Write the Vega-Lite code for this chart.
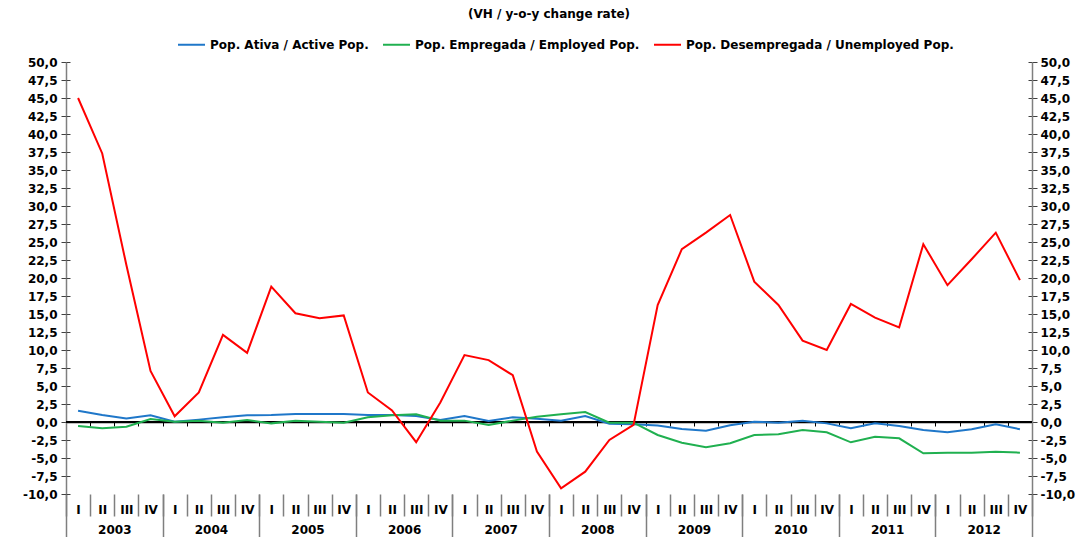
{
  "$schema": "https://vega.github.io/schema/vega-lite/v6.json",
  "width": 966,
  "height": 432,
  "autosize": {"type": "none"},
  "padding": {"left": 66, "top": 62, "right": 54, "bottom": 43},
  "background": "white",
  "config": {
    "locale": {"number": {"decimal": ",", "thousands": ".", "grouping": [3], "currency": ["", " €"], "minus": "-"}},
    "view": {"stroke": null},
    "font": "DejaVu Sans",
    "axis": {"labelFont": "DejaVu Sans", "labelFontWeight": "bold", "labelFontSize": 12, "labelColor": "#000000", "grid": false, "title": null}
  },
  "title": {"text": "(VH / y-o-y change rate)", "font": "DejaVu Sans", "fontSize": 12, "fontWeight": "bold", "color": "#000000", "anchor": "middle", "offset": 9},
  "data": {"values": [
    {"t": 0, "ativa": 1.57, "empregada": -0.56, "desempregada": 45.0},
    {"t": 1, "ativa": 0.97, "empregada": -0.88, "desempregada": 37.3},
    {"t": 2, "ativa": 0.5, "empregada": -0.65, "desempregada": 21.8},
    {"t": 3, "ativa": 0.93, "empregada": 0.42, "desempregada": 7.1},
    {"t": 4, "ativa": 0.05, "empregada": 0.05, "desempregada": 0.8},
    {"t": 5, "ativa": 0.33, "empregada": 0.19, "desempregada": 4.1},
    {"t": 6, "ativa": 0.65, "empregada": -0.1, "desempregada": 12.1},
    {"t": 7, "ativa": 0.93, "empregada": 0.28, "desempregada": 9.6},
    {"t": 8, "ativa": 0.97, "empregada": -0.19, "desempregada": 18.8},
    {"t": 9, "ativa": 1.1, "empregada": 0.19, "desempregada": 15.1},
    {"t": 10, "ativa": 1.1, "empregada": 0.05, "desempregada": 14.4},
    {"t": 11, "ativa": 1.1, "empregada": -0.1, "desempregada": 14.8},
    {"t": 12, "ativa": 0.97, "empregada": 0.65, "desempregada": 4.1},
    {"t": 13, "ativa": 0.97, "empregada": 0.95, "desempregada": 1.6},
    {"t": 14, "ativa": 0.83, "empregada": 1.06, "desempregada": -2.8},
    {"t": 15, "ativa": 0.28, "empregada": 0.19, "desempregada": 2.7},
    {"t": 16, "ativa": 0.83, "empregada": 0.19, "desempregada": 9.3},
    {"t": 17, "ativa": 0.14, "empregada": -0.42, "desempregada": 8.6},
    {"t": 18, "ativa": 0.65, "empregada": 0.19, "desempregada": 6.5},
    {"t": 19, "ativa": 0.46, "empregada": 0.74, "desempregada": -4.1},
    {"t": 20, "ativa": 0.19, "empregada": 1.06, "desempregada": -9.2},
    {"t": 21, "ativa": 0.83, "empregada": 1.39, "desempregada": -6.9},
    {"t": 22, "ativa": -0.23, "empregada": -0.1, "desempregada": -2.5},
    {"t": 23, "ativa": -0.32, "empregada": -0.1, "desempregada": -0.4},
    {"t": 24, "ativa": -0.5, "empregada": -1.8, "desempregada": 16.25},
    {"t": 25, "ativa": -0.97, "empregada": -2.87, "desempregada": 24.0},
    {"t": 26, "ativa": -1.2, "empregada": -3.5, "desempregada": 26.3},
    {"t": 27, "ativa": -0.46, "empregada": -2.96, "desempregada": 28.75},
    {"t": 28, "ativa": 0.05, "empregada": -1.8, "desempregada": 19.5},
    {"t": 29, "ativa": -0.09, "empregada": -1.71, "desempregada": 16.25},
    {"t": 30, "ativa": 0.19, "empregada": -1.1, "desempregada": 11.3},
    {"t": 31, "ativa": -0.19, "empregada": -1.43, "desempregada": 10.0},
    {"t": 32, "ativa": -0.88, "empregada": -2.82, "desempregada": 16.4},
    {"t": 33, "ativa": -0.19, "empregada": -2.04, "desempregada": 14.5},
    {"t": 34, "ativa": -0.56, "empregada": -2.27, "desempregada": 13.15},
    {"t": 35, "ativa": -1.1, "empregada": -4.35, "desempregada": 24.7},
    {"t": 36, "ativa": -1.43, "empregada": -4.26, "desempregada": 19.0},
    {"t": 37, "ativa": -1.0, "empregada": -4.26, "desempregada": 22.6},
    {"t": 38, "ativa": -0.32, "empregada": -4.12, "desempregada": 26.3},
    {"t": 39, "ativa": -1.0, "empregada": -4.26, "desempregada": 19.7}
  ]},
  "layer": [
    {
      "mark": {"type": "rule", "strokeWidth": 1.5, "color": "#000000"},
      "encoding": {
        "y": {"datum": 0, "type": "quantitative", "scale": {"domain": [-10, 50], "nice": false, "zero": false},
          "axis": {"orient": "right", "values": [-10,-7.5,-5,-2.5,0,2.5,5,7.5,10,12.5,15,17.5,20,22.5,25,27.5,30,32.5,35,37.5,40,42.5,45,47.5,50],
            "domain": false, "labels": false, "tickColor": "#404040", "tickSize": -4, "title": null}}
      }
    },
    {
      "mark": {"type": "line", "strokeWidth": 2},
      "encoding": {
        "x": {"field": "t", "type": "quantitative", "scale": {"domain": [-0.5, 39.5], "nice": false, "zero": false},
          "axis": {"orient": "bottom", "values": [-0.5,0.5,1.5,2.5,3.5,4.5,5.5,6.5,7.5,8.5,9.5,10.5,11.5,12.5,13.5,14.5,15.5,16.5,17.5,18.5,19.5,20.5,21.5,22.5,23.5,24.5,25.5,26.5,27.5,28.5,29.5,30.5,31.5,32.5,33.5,34.5,35.5,36.5,37.5,38.5,39.5],
            "domain": false, "ticks": true, "tickSize": 22, "tickColor": "#7f7f7f", "tickWidth": 1.5,
            "labelExpr": "datum.value > 39 ? '' : ((datum.value + 0.5) % 4 == 0 ? 'I' : ((datum.value + 0.5) % 4 == 1 ? 'II' : ((datum.value + 0.5) % 4 == 2 ? 'III' : 'IV')))",
            "labelOffset": 12.075, "labelPadding": -7, "labelBaseline": "middle", "labelAlign": "center", "labelFlush": false, "labelOverlap": false, "labelBound": false, "title": null}},
        "y": {"field": "ativa", "type": "quantitative", "scale": {"domain": [-10, 50], "nice": false, "zero": false},
          "axis": {"orient": "left", "values": [-10,-7.5,-5,-2.5,0,2.5,5,7.5,10,12.5,15,17.5,20,22.5,25,27.5,30,32.5,35,37.5,40,42.5,45,47.5,50], "format": ".1f",
            "domain": true, "domainColor": "#7f7f7f", "domainWidth": 1.5, "tickColor": "#404040", "tickSize": 5, "labelPadding": 4, "labelOverlap": false, "labelFlush": false, "title": null}},
        "color": {"datum": "Pop. Ativa / Active Pop.", "type": "nominal",
          "scale": {"domain": ["Pop. Ativa / Active Pop.", "Pop. Empregada / Employed Pop.", "Pop. Desempregada / Unemployed Pop."], "range": ["#1F77C9", "#20B050", "#FF0000"]},
          "legend": {"orient": "none", "legendX": 111, "legendY": -32, "direction": "horizontal", "title": null, "symbolType": "stroke", "symbolSize": 729, "symbolStrokeWidth": 2, "labelFont": "DejaVu Sans", "labelFontWeight": "bold", "labelFontSize": 12, "labelColor": "#000000", "labelOffset": 4, "columnPadding": 10, "padding": 0, "labelLimit": 400}}
      }
    },
    {
      "mark": {"type": "line", "strokeWidth": 2},
      "encoding": {
        "x": {"field": "t", "type": "quantitative", "scale": {"domain": [-0.5, 39.5], "nice": false, "zero": false},
          "axis": {"orient": "bottom", "values": [-0.5,3.5,7.5,11.5,15.5,19.5,23.5,27.5,31.5,35.5,39.5],
            "domain": false, "ticks": true, "tickSize": 43, "tickColor": "#7f7f7f", "tickWidth": 1.5,
            "labelExpr": "datum.value > 39 ? '' : '' + (2003 + (datum.value + 0.5) / 4)",
            "labelOffset": 48.3, "labelPadding": -8, "labelBaseline": "middle", "labelAlign": "center", "labelFlush": false, "labelOverlap": false, "labelBound": false, "title": null}},
        "y": {"field": "empregada", "type": "quantitative", "scale": {"domain": [-10, 50], "nice": false, "zero": false},
          "axis": {"orient": "right", "values": [-10,-7.5,-5,-2.5,0,2.5,5,7.5,10,12.5,15,17.5,20,22.5,25,27.5,30,32.5,35,37.5,40,42.5,45,47.5,50], "format": ".1f",
            "domain": true, "domainColor": "#7f7f7f", "domainWidth": 1.5, "tickColor": "#404040", "tickSize": 5, "labelPadding": 3, "labelOverlap": false, "labelFlush": false, "title": null}},
        "color": {"datum": "Pop. Empregada / Employed Pop.", "type": "nominal"}
      }
    },
    {
      "mark": {"type": "line", "strokeWidth": 2},
      "encoding": {
        "x": {"field": "t", "type": "quantitative", "scale": {"domain": [-0.5, 39.5], "nice": false, "zero": false},
          "axis": {"orient": "bottom", "offset": -72, "values": [-0.5,0.5,1.5,2.5,3.5,4.5,5.5,6.5,7.5,8.5,9.5,10.5,11.5,12.5,13.5,14.5,15.5,16.5,17.5,18.5,19.5,20.5,21.5,22.5,23.5,24.5,25.5,26.5,27.5,28.5,29.5,30.5,31.5,32.5,33.5,34.5,35.5,36.5,37.5,38.5,39.5],
            "domain": true, "domainColor": "#000000", "domainWidth": 1.5, "ticks": true, "tickSize": 4, "tickColor": "#000000", "tickWidth": 1, "labels": false, "title": null}},
        "y": {"field": "desempregada", "type": "quantitative", "scale": {"domain": [-10, 50], "nice": false, "zero": false},
          "axis": {"orient": "left", "values": [-10,-7.5,-5,-2.5,0,2.5,5,7.5,10,12.5,15,17.5,20,22.5,25,27.5,30,32.5,35,37.5,40,42.5,45,47.5,50],
            "domain": false, "labels": false, "tickColor": "#404040", "tickSize": -4, "title": null}},
        "color": {"datum": "Pop. Desempregada / Unemployed Pop.", "type": "nominal"}
      }
    }
  ],
  "resolve": {"axis": {"x": "independent", "y": "independent"}}
}
